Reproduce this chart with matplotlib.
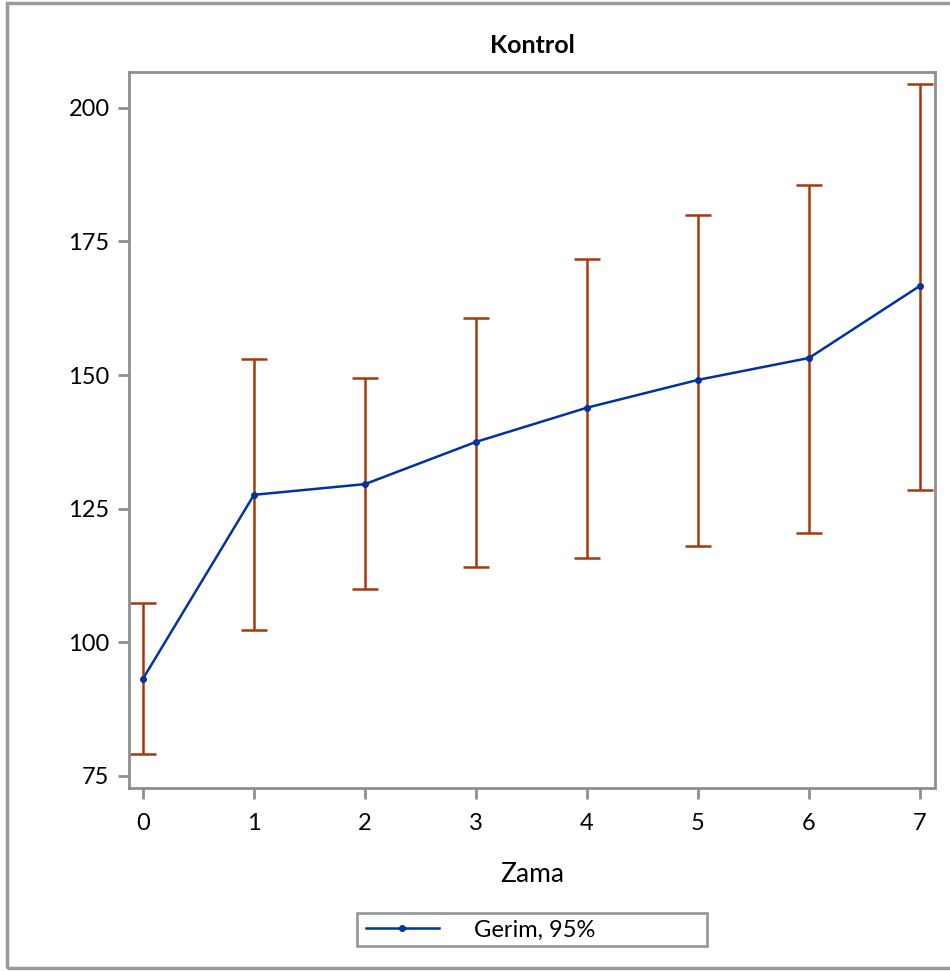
import matplotlib.pyplot as plt
from matplotlib.lines import Line2D
from matplotlib.patches import Rectangle
import numpy as np

plt.rcParams['font.family'] = ['Lato', 'DejaVu Sans']

zaman = [0, 1, 2, 3, 4, 5, 6, 7]
gerim = [93.2, 127.6, 129.6, 137.5, 143.9, 149.1, 153.2, 166.7]
ust = [107.4, 153.0, 149.5, 160.7, 171.7, 180.0, 185.6, 204.5]
alt = [79.1, 102.3, 110.0, 114.1, 115.8, 118.0, 120.5, 128.5]

line_col = '#0033A0'
err_col = '#A8380C'
spine_col = '#8C8F93'

gerim = np.array(gerim)
yerr = [gerim - np.array(alt), np.array(ust) - gerim]

fig = plt.figure(figsize=(9.5, 9.71), dpi=100)
ax = fig.add_axes([129 / 950, 1 - 788 / 971, 806 / 950, 716 / 971])

ax.errorbar(zaman, gerim, yerr=yerr, fmt='none', ecolor=err_col,
            elinewidth=1.8, capsize=9.5, capthick=1.8, zorder=2)
ax.plot(zaman, gerim, color=line_col, lw=1.8, marker='o', ms=4, zorder=3)

ax.set_xlim(-0.126, 7.135)
ax.set_ylim(72.75, 206.7)
ax.set_xticks(zaman)
ax.set_yticks([75, 100, 125, 150, 175, 200])

for s in ax.spines.values():
    s.set_color(spine_col)
    s.set_linewidth(2)
ax.tick_params(direction='out', length=8, width=2, color=spine_col,
               labelsize=17, pad=6)
ax.tick_params(axis='x', pad=10)

ax.set_xlabel('Zama', fontsize=19, labelpad=20)
ax.set_title('Kontrol', fontsize=18, fontweight='bold', pad=14)

# outer frame
fig.patches.append(Rectangle((7 / 950, 1 - 968 / 971), 1.0, 965 / 971,
                             transform=fig.transFigure, fill=False,
                             edgecolor='#9A9A9A', lw=2.5, clip_on=False))

# legend box
fig.patches.append(Rectangle((357 / 950, 1 - 946 / 971), 350 / 950, 33 / 971,
                             transform=fig.transFigure, fill=False,
                             edgecolor='#9A9A9A', lw=2))
handle = Line2D([], [], color=line_col, lw=1.8, marker='o', ms=4)
fig.legend([handle], ['Gerim, 95%'], loc='center left',
           bbox_to_anchor=(349 / 950, 1 - 930 / 971), frameon=False,
           fontsize=17, handlelength=3.1, handletextpad=1.5, borderpad=0.2)

fig.savefig('out.png', dpi=100)
